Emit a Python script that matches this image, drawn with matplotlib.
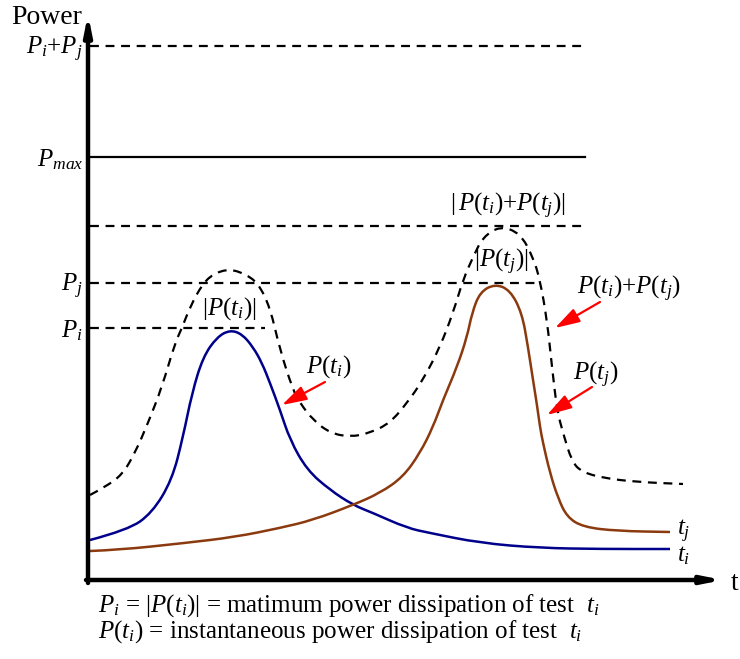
import numpy as np
import matplotlib
matplotlib.use('Agg')
import matplotlib.pyplot as plt
from matplotlib.path import Path
from matplotlib.patches import PathPatch

plt.rcParams['font.family'] = 'Liberation Serif'
plt.rcParams['mathtext.fontset'] = 'custom'
plt.rcParams['mathtext.rm'] = 'Liberation Serif'
plt.rcParams['mathtext.it'] = 'Liberation Serif:italic'

# P(t_i) - blue curve
t_i = [2, 40, 64, 84, 95, 104, 115, 129, 142, 154, 165, 174, 182, 192, 202,
       219, 242, 265, 285, 319, 342, 392, 452, 512, 582]
p_i = [40, 50, 67, 100, 143, 187, 223, 243, 250, 246, 233, 217, 197, 170, 140,
       110, 90, 75, 67, 52, 47, 37, 32, 31, 31]

# P(t_j) - brown curve
t_j = [2, 30, 97, 147, 192, 225, 265, 292, 315, 332, 345, 355, 369, 379, 384,
       392, 407, 422, 434, 440, 445, 449, 452, 455, 462, 470, 479, 495, 529, 582]
p_j = [29, 30, 37, 43, 52, 60, 75, 87, 103, 127, 153, 180, 213, 243, 267,
       288, 296, 290, 267, 233, 200, 175, 153, 137, 107, 82, 63, 53, 49, 48]

# P(t_i)+P(t_j) - dashed curve
t_sum = [2, 17, 34, 47, 60, 74, 87, 94, 102, 115, 127, 142, 157, 170, 182,
         192, 205, 212, 225, 242, 262, 282, 302, 319, 335, 352, 365, 375, 385,
         395, 412, 432, 445, 452, 459, 464, 469, 475, 484, 494, 515, 549, 595]
p_sum = [85, 93, 105, 127, 157, 193, 237, 252, 273, 297, 307, 311, 306, 297, 273,
         230, 190, 177, 160, 147, 143, 147, 157, 177, 200, 233, 267, 300, 323,
         343, 354, 347, 323, 300, 260, 213, 170, 147, 118, 108, 102, 98, 96]

# reference levels: label, value, end of line, style
level_labels = [r'$P_i{+}P_j$', r'$P_{max}$', '', r'$P_j$', r'$P_i$']
level_values = [534, 423, 354, 297, 252]
level_ends = [497, 497, 495, 452, 177]
level_solid = [False, True, False, False, False]


def smooth_path(x, y):
    # quadratic bezier through midpoints, data points act as control points
    pts = np.column_stack([x, y]).astype(float)
    verts = [pts[0]]
    codes = [Path.MOVETO]
    for k in range(1, len(pts) - 1):
        verts += [pts[k], (pts[k] + pts[k + 1]) / 2]
        codes += [Path.CURVE3, Path.CURVE3]
    verts.append(pts[-1])
    codes.append(Path.LINETO)
    return Path(verts, codes)


fig = plt.figure(figsize=(7.4, 6.59), dpi=100)
ax = fig.add_axes([0, 0, 1, 1])
ax.set_xlim(-88, 652)
ax.set_ylim(-79, 580)
ax.axis('off')

FS = 18
dash = (0, (4, 3))

# axes with arrows
ax.annotate('', xy=(0, 566), xytext=(0, -3),
            arrowprops=dict(arrowstyle='-|>,head_length=1.1,head_width=0.22',
                            lw=3.2, color='black', shrinkA=0, shrinkB=0))
ax.annotate('', xy=(635, 0), xytext=(-2, 0),
            arrowprops=dict(arrowstyle='-|>,head_length=1.1,head_width=0.22',
                            lw=3.2, color='black', shrinkA=0, shrinkB=0))
ax.text(-41, 562, 'Power', fontsize=20, ha='center', va='center')
ax.text(647, -4, 't', fontsize=20, ha='center', va='center')

# reference level lines
for lab, val, end, solid in zip(level_labels, level_values, level_ends, level_solid):
    ax.plot([2, end], [val, val], color='black', lw=1.6,
            linestyle='-' if solid else dash)
    if lab:
        ax.text(-5, val - 3, lab, fontsize=FS, ha='right', va='center')

# curves
ax.add_patch(PathPatch(smooth_path(t_sum, p_sum), fill=False, edgecolor='black',
                       lw=1.6, linestyle=dash))
ax.add_patch(PathPatch(smooth_path(t_i, p_i), fill=False, edgecolor='#00008b', lw=1.8))
ax.add_patch(PathPatch(smooth_path(t_j, p_j), fill=False, edgecolor='#8b3a0f', lw=1.8))

# peak labels
ax.text(420, 374, r'$|\,P(t_i){+}P(t_j)|$', fontsize=FS, ha='center', va='center')
ax.text(413, 318, r'$|P(t_j)|$', fontsize=FS, ha='center', va='center')
ax.text(141, 271, r'$|P(t_i)|$', fontsize=FS, ha='center', va='center')

# curve end labels
ax.text(589, 49, r'$t_j$', fontsize=FS, ha='left', va='center')
ax.text(589, 24, r'$t_i$', fontsize=FS, ha='left', va='center')

# red pointer arrows
red = dict(arrowstyle='-|>,head_length=1.0,head_width=0.3', lw=1.6,
           color='red', shrinkA=0, shrinkB=0, mutation_scale=15)
ax.text(541, 291, r'$P(t_i){+}P(t_j)$', fontsize=FS, ha='center', va='center')
ax.annotate('', xy=(467, 252), xytext=(512, 278), arrowprops=red)
ax.text(508, 205, r'$P(t_j)$', fontsize=FS, ha='center', va='center')
ax.annotate('', xy=(459, 165), xytext=(504, 193), arrowprops=red)
ax.text(241, 213, r'$P(t_i)$', fontsize=FS, ha='center', va='center')
ax.annotate('', xy=(194, 175), xytext=(237, 198), arrowprops=red)

# notes below the axis
ax.text(10, -26, r'$P_i$ = $|P(t_i)|$ = matimum power dissipation of test  $t_i$',
        fontsize=FS, ha='left', va='center')
ax.text(10, -52, r'$P(t_i)$ = instantaneous power dissipation of test  $t_i$',
        fontsize=FS, ha='left', va='center')

fig.savefig('out.png', dpi=100)
